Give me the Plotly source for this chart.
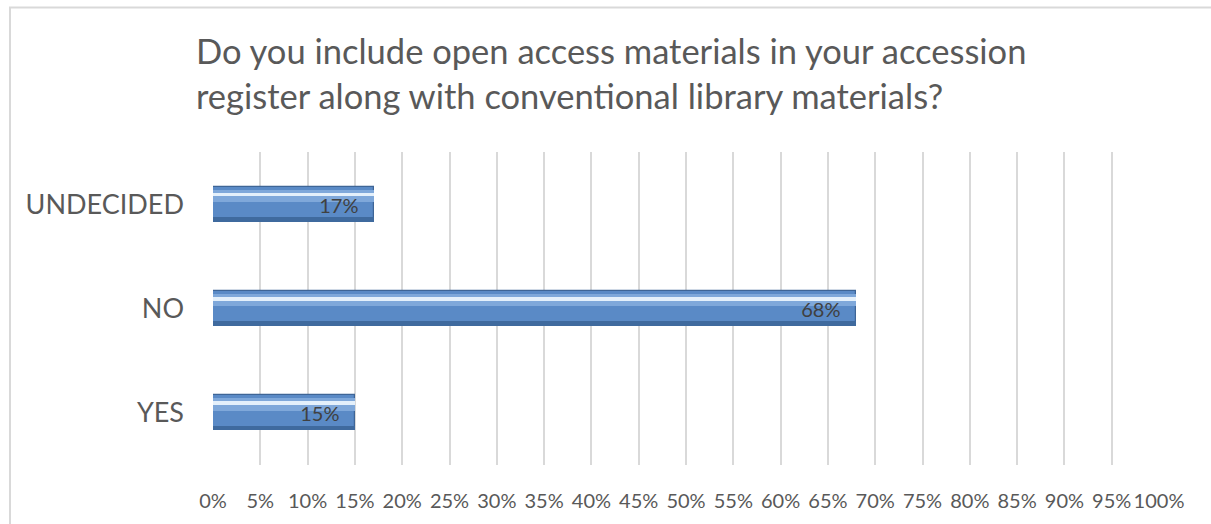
import plotly.graph_objects as go

# Survey answers (bottom to top) and share of respondents in percent
answers = ["YES", "NO", "UNDECIDED"]
shares = [15, 68, 17]
pct_labels = [f"{v}%\u2002\u2009" for v in shares]

title_text = ("Do you include open access materials in your accession<br>"
              "register along with conventional library materials?")

FONT = "Lato"
GREY = "#595959"
BAR_W = 0.335

fig = go.Figure()

# main bar body
fig.add_trace(go.Bar(
    y=answers, x=shares, orientation="h", width=BAR_W,
    marker=dict(color="#5A8AC6", line=dict(color="#3E6596", width=1.2)),
    hoverinfo="skip", showlegend=False,
))
# soft lighter band over the upper half of each bar
fig.add_trace(go.Bar(
    y=answers, x=shares, orientation="h", width=0.12, offset=0.02,
    marker=dict(color="#7FA8DA", line=dict(width=0)),
    hoverinfo="skip", showlegend=False,
))
# bright glossy highlight stripe
fig.add_trace(go.Bar(
    y=answers, x=shares, orientation="h", width=0.035, offset=0.075,
    marker=dict(color="#E4F0FB", line=dict(width=0)),
    hoverinfo="skip", showlegend=False,
))
# darker lower edge
fig.add_trace(go.Bar(
    y=answers, x=shares, orientation="h", width=0.045, offset=-BAR_W / 2,
    marker=dict(color="#3F6A9E", line=dict(width=0)),
    hoverinfo="skip", showlegend=False,
))
# value labels on top of everything
fig.add_trace(go.Bar(
    y=answers, x=shares, orientation="h", width=BAR_W,
    marker=dict(color="rgba(0,0,0,0)", line=dict(width=0)),
    text=pct_labels, textposition="inside", insidetextanchor="end",
    textfont=dict(family=FONT, size=20, color="#404040"),
    hoverinfo="skip", showlegend=False,
))

# light frame around the chart area
fig.add_shape(type="rect", xref="paper", yref="paper",
              x0=-0.2146, x1=1.2, y0=-0.4, y1=1.4617,
              line=dict(color="#D9D9D9", width=2), layer="below")

fig.update_layout(
    width=1211, height=524,
    margin=dict(l=213, r=52, t=152, b=59),
    paper_bgcolor="white", plot_bgcolor="white",
    barmode="overlay", bargap=0,
    title=dict(text=title_text, x=196 / 1211, xanchor="left",
               y=1 - 64 / 524, yanchor="top",
               font=dict(family=FONT, size=34.5, color=GREY)),
    xaxis=dict(range=[0, 100], dtick=5, ticksuffix="%",
               showgrid=True, gridcolor="#D9D9D9", gridwidth=2,
               zeroline=False, showline=False, ticks="",
               ticklabelstandoff=22,
               tickfont=dict(family=FONT, size=20, color=GREY)),
    yaxis=dict(categoryorder="array", categoryarray=answers,
               showgrid=False, zeroline=False, showline=False, ticks="",
               ticklabelstandoff=28,
               tickfont=dict(family=FONT, size=27, color=GREY)),
)

fig.write_html("out.html")
